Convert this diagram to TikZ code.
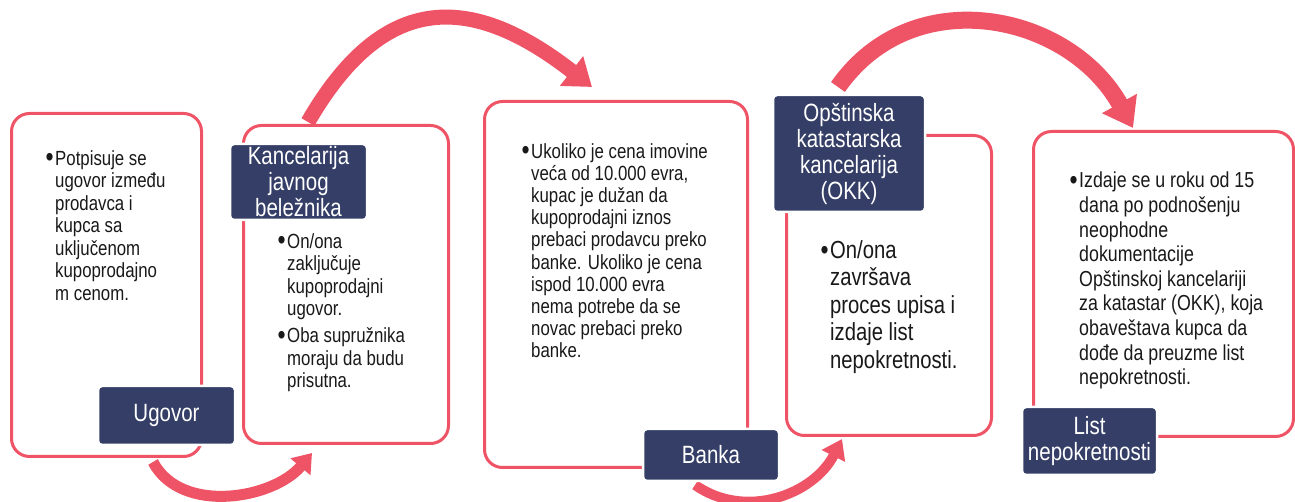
\documentclass[tikz,border=0pt]{standalone}
\usepackage{fontspec}
\setmainfont[FakeStretch=0.82]{Liberation Sans}
\usetikzlibrary{arrows.meta}
\definecolor{cardpink}{HTML}{EF5366}
\definecolor{tagnavy}{HTML}{343E66}
\providecommand{\bul}{\llap{\raisebox{-1.8pt}{\fontsize{28}{28}\selectfont\textbullet}\hspace{1.5pt}}}

\begin{document}
\begin{tikzpicture}[x=1pt,y=1pt,
    card/.style={draw=cardpink,line width=3pt,fill=white,rounded corners=18pt,anchor=south west,inner sep=0},
    tag/.style={fill=tagnavy,draw=white,line width=2.5pt,rounded corners=4pt,text=white,align=center,inner sep=0,font=\fontsize{25}{26}\selectfont},
    body/.style={anchor=north west,align=left,inner sep=0,text=black!90},
    flow/.style={draw=cardpink,line width=#1}]
    \useasboundingbox (0,0) rectangle (1295,502);
    % outlined cards
    \node[card,minimum width=190,minimum height=343] (card1) at (10,44) {};
    \node[card,minimum width=205,minimum height=318] (card2) at (242,57) {};
    \node[card,minimum width=263,minimum height=366] (card3) at (483,33) {};
    \node[card,minimum width=205,minimum height=300] (card4) at (785,65) {};
    \node[card,minimum width=260,minimum height=305] (card5) at (1032,64) {};
    % texts
    \node[body,font=\fontsize{20.5}{22.5}\selectfont] (text1) at (55,352)
    {\bul Potpisuje se\\ugovor između\\prodavca i\\kupca sa\\uključenom\\kupoprodajno\\m cenom.};
    \node[body,font=\fontsize{20.5}{22.5}\selectfont] (text2) at (287,269)
    {\bul On/ona\\zaključuje\\kupoprodajni\\ugovor.\\[4.5pt]\bul Oba supružnika\\moraju da budu\\prisutna.};
    \node[body,font=\fontsize{20.5}{22.2}\selectfont] (text3) at (531,359)
    {\bul Ukoliko je cena imovine\\veća od 10.000 evra,\\kupac je dužan da\\kupoprodajni iznos\\prebaci prodavcu preko\\banke. Ukoliko je cena\\ispod 10.000 evra\\nema potrebe da se\\novac prebaci preko\\banke.};
    \node[body,font=\fontsize{24.7}{27.5}\selectfont] (text4) at (830,262)
    {\bul On/ona\\završava\\proces upisa i\\izdaje list\\nepokretnosti.};
    \node[body,font=\fontsize{21.7}{24.6}\selectfont] (text5) at (1079,330)
    {\bul Izdaje se u roku od 15\\dana po podnošenju\\neophodne\\dokumentacije\\Opštinskoj kancelariji\\za katastar (OKK), koja\\obaveštava kupca da\\dođe da preuzme list\\nepokretnosti.};
    % curved arrows
    \coordinate (a1s) at (153,40);
    \coordinate (a1e) at (312,49);
    \coordinate (a2s) at (308,380);
    \coordinate (a2e) at (592,415);
    \coordinate (a3s) at (695,17);
    \coordinate (a3e) at (842,63);
    \coordinate (a4s) at (838,415);
    \coordinate (a4e) at (1133,374);
    \draw[flow=11pt,-{Triangle[length=18pt,width=25pt]}] (a1s) .. controls +(-62:60) and +(-130:60) .. (a1e);
    \draw[flow=15pt,-{Triangle[length=26pt,width=36pt]}] (a2s) .. controls +(60:145) and +(142:160) .. (a2e);
    \draw[flow=10pt,-{Triangle[length=19pt,width=25pt]}] (a3s) .. controls +(-35:62) and +(-117:62) .. (a3e);
    \draw[flow=17pt,-{Triangle[length=28pt,width=38pt]}] (a4s) .. controls +(55:131) and +(119:131) .. (a4e);
    % navy tags
    \node[tag,minimum width=137,minimum height=59] (ugovor) at (166.5,86.5) {Ugovor};
    \node[tag,minimum width=137,minimum height=76] (javni) at (298.5,320) {Kancelarija\\javnog\\beležnika};
    \node[tag,minimum width=136,minimum height=52] (banka) at (711,47) {Banka};
    \node[tag,minimum width=152,minimum height=117] (okk) at (849,348.5) {Opštinska\\katastarska\\kancelarija\\(OKK)};
    \node[tag,minimum width=135,minimum height=68] (list) at (1089.5,61) {List\\nepokretnosti};
\end{tikzpicture}
\end{document}
